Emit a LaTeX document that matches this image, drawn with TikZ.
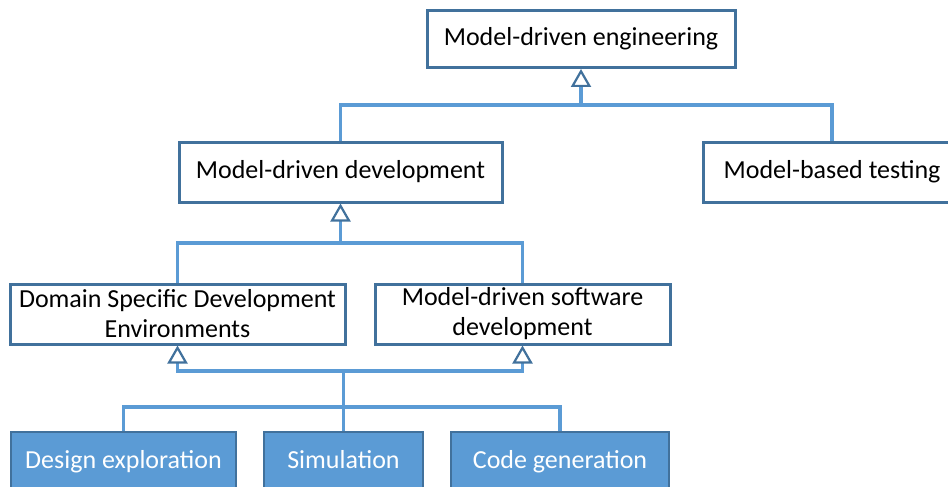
\documentclass[tikz,border=0pt]{standalone}
\usepackage{fontspec}
\setmainfont{Carlito}
\usetikzlibrary{arrows.meta}

\definecolor{mdborder}{HTML}{41719C}
\definecolor{mdfill}{HTML}{5B9BD5}
\definecolor{mdline}{HTML}{5B9BD5}

\tikzset{
  box/.style={draw=mdborder, line width=3pt, fill=white, inner sep=0pt,
    align=center, font=\fontsize{26}{30}\selectfont},
  leafbox/.style={box, fill=mdfill, draw=mdborder, line width=1.5pt, text=white,
    text height=18pt, text depth=6pt},
  link/.style={draw=mdline, line width=3.2pt},
  inh/.style={link, -{Triangle[width=20pt,length=18pt,fill=white,color=mdborder,line width=2.2pt]}}
}

\begin{document}
\begin{tikzpicture}[x=1pt,y=-1pt]
        \useasboundingbox (0,0) rectangle (948,487);
        \clip (0,0) rectangle (948,487);
        \node[box, minimum width=308pt, minimum height=57pt] (mde) at (581,39) {Model-driven engineering};
        \node[box, minimum width=323pt, minimum height=60pt] (mdd) at (340.5,172) {Model-driven development};
        \node[box, minimum width=258pt, minimum height=60pt] (mbt) at (832,172) {Model-based testing};
        \node[box, minimum width=335pt, minimum height=60pt] (dsde) at (177.5,314) {Domain Specific Development\\Environments};
        \node[box, minimum width=295pt, minimum height=60pt] (mdsd) at (522.5,314) {Model-driven software\\development};
        \node[leafbox, minimum width=225pt, minimum height=60pt] (de) at (123.5,462) {Design exploration};
        \node[leafbox, minimum width=159pt, minimum height=60pt] (sim) at (343.5,462) {Simulation};
        \node[leafbox, minimum width=218pt, minimum height=60pt] (cg) at (560,462) {Code generation};
        \coordinate (j1) at (581,105);
        \coordinate (j2) at (340.5,243);
        \coordinate (j3) at (343.5,371);
        \coordinate (j4) at (343.5,407);
        \draw[link] (mdd.north) |- (j1);
        \draw[link] (mbt.north) |- (j1);
        \draw[inh] (j1) -- (mde.south);
        \draw[link] (dsde.north) |- (j2);
        \draw[link] (mdsd.north) |- (j2);
        \draw[inh] (j2) -- (mdd.south);
        \draw[link] (sim.north) -- (j3);
        \draw[link] (de.north) |- (j4) -| (cg.north);
        \draw[inh] (j3) -| (dsde.south);
        \draw[inh] (j3) -| (mdsd.south);
    \end{tikzpicture}
\end{document}
